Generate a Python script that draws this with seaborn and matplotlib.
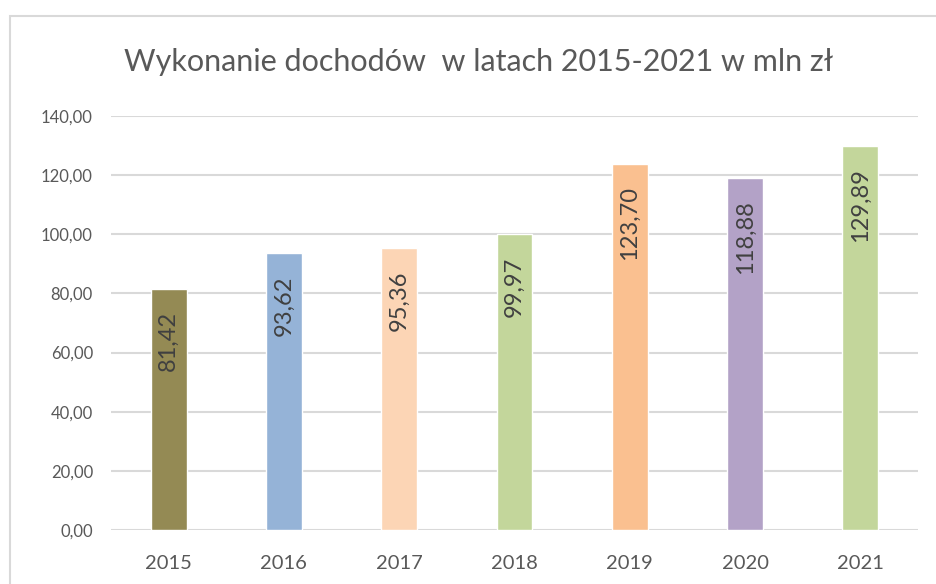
import matplotlib
matplotlib.use("Agg")
import matplotlib.pyplot as plt
import matplotlib.ticker as mticker
from matplotlib.patches import Rectangle
import seaborn as sns
import pandas as pd

years = ["2015", "2016", "2017", "2018", "2019", "2020", "2021"]
values = [81.42, 93.62, 95.36, 99.97, 123.70, 118.88, 129.89]
colors = ["#948A54", "#95B3D7", "#FCD5B5", "#C3D69B", "#FAC090", "#B3A2C7", "#C3D69B"]
title = "Wykonanie dochodów  w latach 2015-2021 w mln zł"
yticks = [0, 20, 40, 60, 80, 100, 120, 140]

df = pd.DataFrame({"rok": years, "wartosc": values})

sns.set_theme(style="white")
plt.rcParams["font.family"] = ["Lato", "DejaVu Sans"]

fig = plt.figure(figsize=(9.36, 5.84), dpi=100)
ax = fig.add_axes([111/936, 54/584, 807/936, 414/584])

sns.barplot(data=df, x="rok", y="wartosc", hue="rok", palette=colors,
            width=0.31, legend=False, ax=ax, saturation=1)

ax.set_ylim(0, 140)
ax.set_xlim(-0.5, 6.5)
ax.set_yticks(yticks)
ax.yaxis.set_major_formatter(mticker.FuncFormatter(lambda v, p: f"{v:.2f}".replace(".", ",")))
ax.grid(axis="y", color="#D9D9D9", linewidth=1.5)
ax.set_axisbelow(True)
for s in ax.spines.values():
    s.set_visible(False)
ax.set_xlabel("")
ax.set_ylabel("")
ax.tick_params(axis="y", length=0, pad=13, labelsize=12, labelcolor="#595959")
ax.tick_params(axis="x", length=0, pad=18, labelsize=14.5, labelcolor="#595959")

for patch, v in zip(ax.patches, values):
    xc = patch.get_x() + patch.get_width() / 2
    ax.annotate(f"{v:.2f}".replace(".", ","), xy=(xc, patch.get_height()),
                xytext=(0, -16), textcoords="offset points",
                rotation=90, ha="center", va="top", fontsize=17, color="#404040")

fig.text(479/936, 1 - 62/584, title, ha="center", va="center",
         fontsize=22, color="#595959")

fig.patches.append(Rectangle((10/936, -0.1), 1.2, 1 - 16/584 + 0.1,
                             transform=fig.transFigure, fill=False,
                             edgecolor="#D9D9D9", linewidth=1.5))

fig.savefig("out.png", dpi=100)
